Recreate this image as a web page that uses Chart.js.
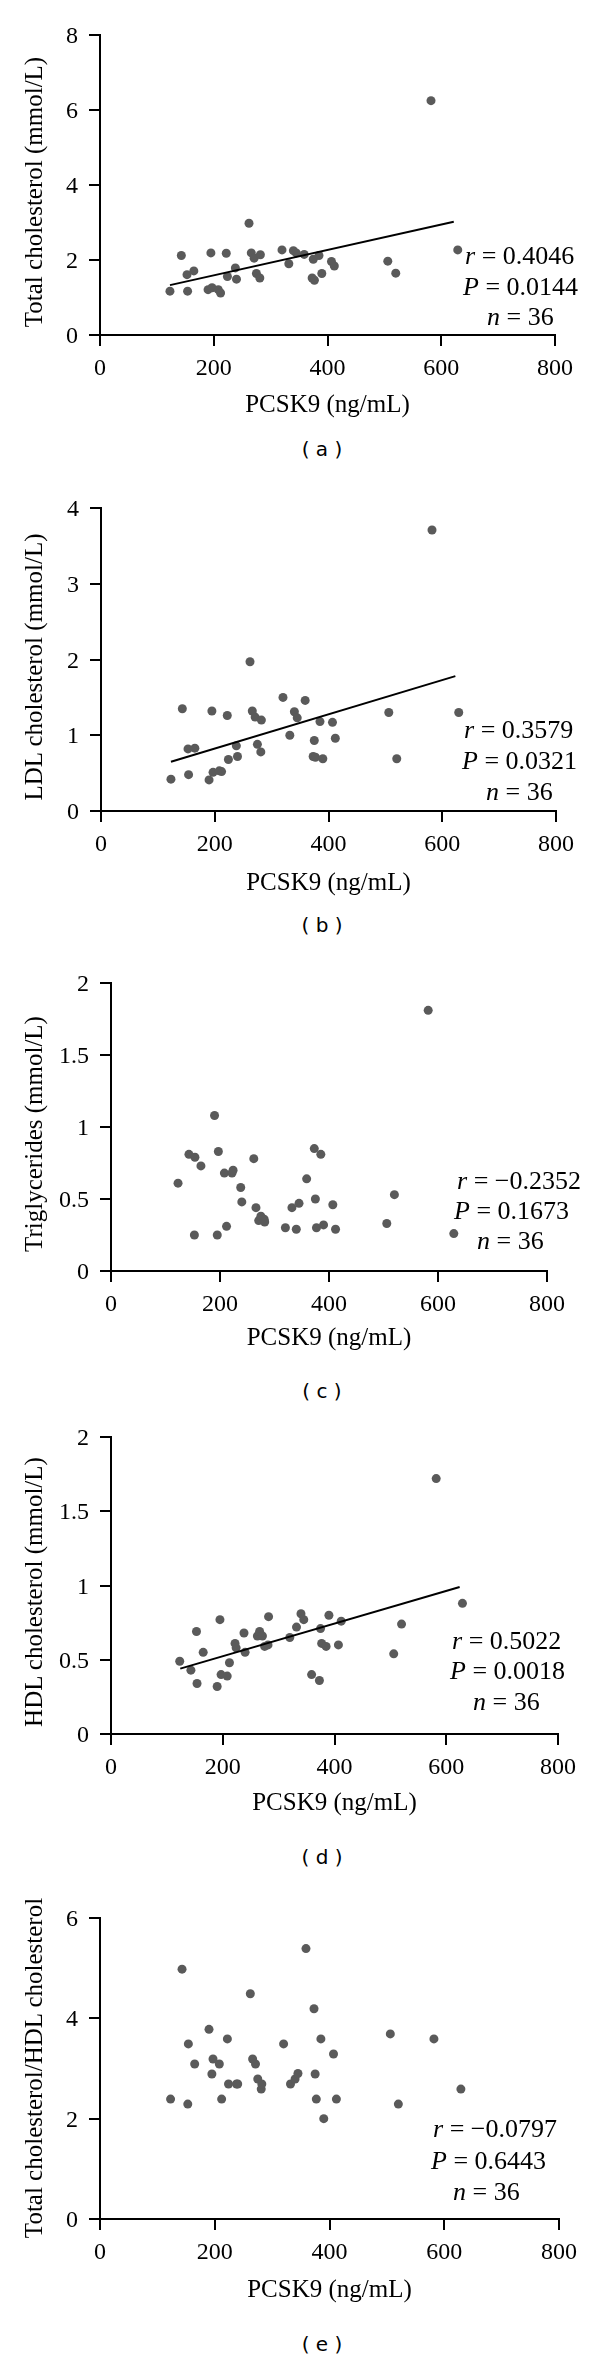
<!DOCTYPE html>
<html>
<head>
<meta charset="utf-8">
<script src="https://cdn.jsdelivr.net/npm/chart.js@4.4.0/dist/chart.umd.min.js"></script>
<style>
html,body{margin:0;padding:0;background:#fff;}
#page{position:relative;width:600px;height:2356px;overflow:hidden;background:#fff;}
#page canvas{position:absolute;left:0;}
.serif{font-family:"Liberation Serif","Times New Roman",serif;color:#000;}
.stat{position:absolute;white-space:nowrap;font-size:26px;line-height:26px;}
.tick{position:absolute;white-space:nowrap;font-size:24px;line-height:24px;}
.ytitle{position:absolute;white-space:nowrap;font-size:25px;line-height:25px;transform:translate(-50%,-50%) rotate(-90deg);}
.cap{position:absolute;white-space:pre;font-family:"DejaVu Sans",sans-serif;font-size:20px;line-height:20px;transform:translate(-50%,-50%);color:#000;}
</style>
</head>
<body>
<div id="page"></div>
<script>
// ---- data (one entry per patient, n = 36) ----
const pcsk9 = [123, 143, 153, 154, 165, 190, 195, 197, 208, 212, 222, 224, 238, 240, 262, 266, 271, 275, 281, 282, 320, 332, 340, 345, 359, 373, 375, 377, 385, 390, 407, 412, 506, 520, 582, 629];
const totalChol = [1.17, 2.12, 1.61, 1.17, 1.71, 1.21, 2.19, 1.26, 1.21, 1.12, 2.18, 1.56, 1.79, 1.49, 2.98, 2.19, 2.05, 1.64, 1.52, 2.14, 2.27, 1.90, 2.25, 2.19, 2.15, 1.52, 2.02, 1.46, 2.12, 1.64, 1.96, 1.84, 1.97, 1.65, 6.25, 2.27];
const ldlChol = [0.42, 1.35, 0.82, 0.48, 0.83, 0.41, 1.32, 0.51, 0.53, 0.52, 1.26, 0.68, 0.86, 0.72, 1.97, 1.32, 1.24, 0.88, 0.78, 1.20, 1.50, 1.00, 1.31, 1.23, 1.46, 0.72, 0.93, 0.71, 1.18, 0.69, 1.17, 0.96, 1.30, 0.69, 3.71, 1.30];
const triglycerides = [0.61, 0.81, 0.25, 0.79, 0.73, 1.08, 0.25, 0.83, 0.68, 0.31, 0.68, 0.70, 0.58, 0.48, 0.78, 0.44, 0.35, 0.38, 0.36, 0.34, 0.30, 0.44, 0.29, 0.47, 0.64, 0.85, 0.50, 0.30, 0.81, 0.32, 0.46, 0.29, 0.33, 0.53, 1.81, 0.26];
const hdlChol = [0.49, 0.43, 0.69, 0.34, 0.55, 0.32, 0.77, 0.40, 0.39, 0.48, 0.61, 0.58, 0.68, 0.55, 0.66, 0.69, 0.66, 0.59, 0.60, 0.79, 0.65, 0.72, 0.81, 0.77, 0.40, 0.36, 0.71, 0.61, 0.59, 0.80, 0.60, 0.76, 0.54, 0.74, 1.72, 0.88];
const tcHdlRatio = [2.39, 4.98, 2.29, 3.49, 3.09, 3.78, 2.89, 3.19, 3.09, 2.39, 3.59, 2.69, 2.69, 2.69, 4.49, 3.19, 3.09, 2.79, 2.59, 2.69, 3.49, 2.69, 2.79, 2.90, 5.39, 4.19, 2.89, 2.39, 3.59, 2.00, 3.29, 2.39, 3.69, 2.29, 3.59, 2.59];

// regression line end points
const tcTrendX = [123, 622], tcTrendY = [1.33, 3.02];
const ldlTrendX = [123, 623], ldlTrendY = [0.65, 1.78];
const hdlTrendX = [124, 624], hdlTrendY = [0.44, 0.99];

// axes
const xTicks = [0, 200, 400, 600, 800];
const xAxisTitle = 'PCSK9 (ng/mL)';
const yTitles = ['Total cholesterol (mmol/L)', 'LDL cholesterol (mmol/L)', 'Triglycerides (mmol/L)', 'HDL cholesterol (mmol/L)', 'Total cholesterol/HDL cholesterol'];
const yMaxes = [8, 4, 2, 2, 6];
const ySteps = [2, 1, 0.5, 0.5, 2];
const captions = ['a', 'b', 'c', 'd', 'e'];
const statR = ['0.4046', '0.3579', '\u22120.2352', '0.5022', '\u22120.0797'];
const statP = ['0.0144', '0.0321', '0.1673', '0.0018', '0.6443'];
const statN = [36, 36, 36, 36, 36];

// ---- layout (page pixels) ----
const SERIF = "'Liberation Serif', 'Times New Roman', serif";
Chart.defaults.font.family = SERIF;
Chart.defaults.color = '#000';

const layout = [
  {ct: 0,    L: 100, R: 555, T: 35,   B: 335,  xt: 405,  cap: 449,  yt: 192,  sx: [465, 463, 487], sb: [265, 296, 326]},
  {ct: 470,  L: 101, R: 556, T: 508,  B: 811,  xt: 883,  cap: 925,  yt: 667,  sx: [464, 462, 486], sb: [739, 770, 801]},
  {ct: 940,  L: 111, R: 547, T: 983,  B: 1271, xt: 1338, cap: 1391, yt: 1134, sx: [457, 454, 477], sb: [1190, 1220, 1250]},
  {ct: 1410, L: 111, R: 558, T: 1437, B: 1734, xt: 1803, cap: 1857, yt: 1592, sx: [452, 450, 473], sb: [1650, 1680, 1711]},
  {ct: 1880, L: 100, R: 559, T: 1918, B: 2219, xt: 2290, cap: 2344, yt: 2068, sx: [433, 431, 453], sb: [2138, 2170, 2201]}
];

const seriesY = [totalChol, ldlChol, triglycerides, hdlChol, tcHdlRatio];
const trends = [[tcTrendX, tcTrendY], [ldlTrendX, ldlTrendY], null, [hdlTrendX, hdlTrendY], null];

const page = document.getElementById('page');

function addDiv(cls, html, style) {
  const d = document.createElement('div');
  d.className = cls;
  d.innerHTML = html;
  Object.assign(d.style, style);
  page.appendChild(d);
  return d;
}
const fmt = v => String(Math.round(v * 100) / 100);
const titleFont = {family: SERIF, size: 25};

layout.forEach((lo, i) => {
  const ch = lo.xt + 15 - lo.ct;          // canvas height: ends at bottom of x title line box
  const hx = ch - (lo.B - lo.ct);          // height of x axis box
  const cv = document.createElement('canvas');
  cv.width = 600; cv.height = ch;
  cv.style.width = '600px'; cv.style.height = ch + 'px';
  cv.style.top = lo.ct + 'px';
  page.appendChild(cv);

  const datasets = [];
  if (trends[i]) {
    const [tx, ty] = trends[i];
    datasets.push({
      type: 'line',
      data: tx.map((x, k) => ({x: x, y: ty[k]})),
      borderColor: '#000', borderWidth: 2, pointRadius: 0, fill: false, tension: 0, order: 0
    });
  }
  datasets.push({
    type: 'scatter',
    data: pcsk9.map((x, k) => ({x: x, y: seriesY[i][k]})),
    backgroundColor: '#5a5a5a', borderWidth: 0, pointRadius: 4.5, order: 1
  });

  const chart = new Chart(cv, {
    type: 'scatter',
    data: {datasets: datasets},
    options: {
      responsive: false, animation: false, devicePixelRatio: 1,
      events: [],
      layout: {padding: {left: 0, right: 600 - lo.R, top: lo.T - lo.ct, bottom: 0}},
      plugins: {legend: {display: false}, tooltip: {enabled: false}},
      scales: {
        x: {
          type: 'linear', position: 'bottom', min: xTicks[0], max: xTicks[xTicks.length - 1],
          afterBuildTicks: s => { s.ticks = xTicks.map(v => ({value: v})); },
          ticks: {display: false, autoSkip: false},
          grid: {drawOnChartArea: false, drawTicks: true, tickLength: 11, color: '#000', lineWidth: 2},
          border: {display: true, color: '#000', width: 2},
          title: {display: true, text: xAxisTitle, font: titleFont, color: '#000', padding: 0},
          afterFit: s => { s.height = hx; }
        },
        y: {
          type: 'linear', position: 'left', min: 0, max: yMaxes[i],
          ticks: {display: false, stepSize: ySteps[i], autoSkip: false},
          grid: {drawOnChartArea: false, drawTicks: true, tickLength: 11, color: '#000', lineWidth: 2},
          border: {display: true, color: '#000', width: 2},
          afterFit: s => { s.width = lo.L; }
        }
      }
    }
  });

  // tick labels, placed with the chart's own scales
  const sxs = chart.scales.x, sys = chart.scales.y;
  sxs.ticks.forEach(t => {
    addDiv('serif tick', fmt(t.value), {
      left: sxs.getPixelForValue(t.value) + 'px',
      top: (lo.ct + sxs.top + 32) + 'px',
      transform: 'translate(-50%,-50%)'
    });
  });
  sys.ticks.forEach(t => {
    addDiv('serif tick', fmt(t.value), {
      left: (sys.right - 22) + 'px',
      top: (lo.ct + sys.getPixelForValue(t.value)) + 'px',
      transform: 'translate(-100%,-50%)'
    });
  });

  // y axis title
  addDiv('serif ytitle', yTitles[i], {left: '33px', top: lo.yt + 'px'});
  // statistics
  const fs = 26, asc = 0.8375 * fs;
  addDiv('serif stat', '<i>r</i> = ' + statR[i], {left: lo.sx[0] + 'px', top: (lo.sb[0] - asc) + 'px'});
  addDiv('serif stat', '<i>P</i> = ' + statP[i], {left: lo.sx[1] + 'px', top: (lo.sb[1] - asc) + 'px'});
  addDiv('serif stat', '<i>n</i> = ' + statN[i], {left: lo.sx[2] + 'px', top: (lo.sb[2] - asc) + 'px'});
  // caption
  addDiv('cap', '( ' + captions[i] + ' )', {left: '322px', top: lo.cap + 'px'});
});
</script>
</body>
</html>
